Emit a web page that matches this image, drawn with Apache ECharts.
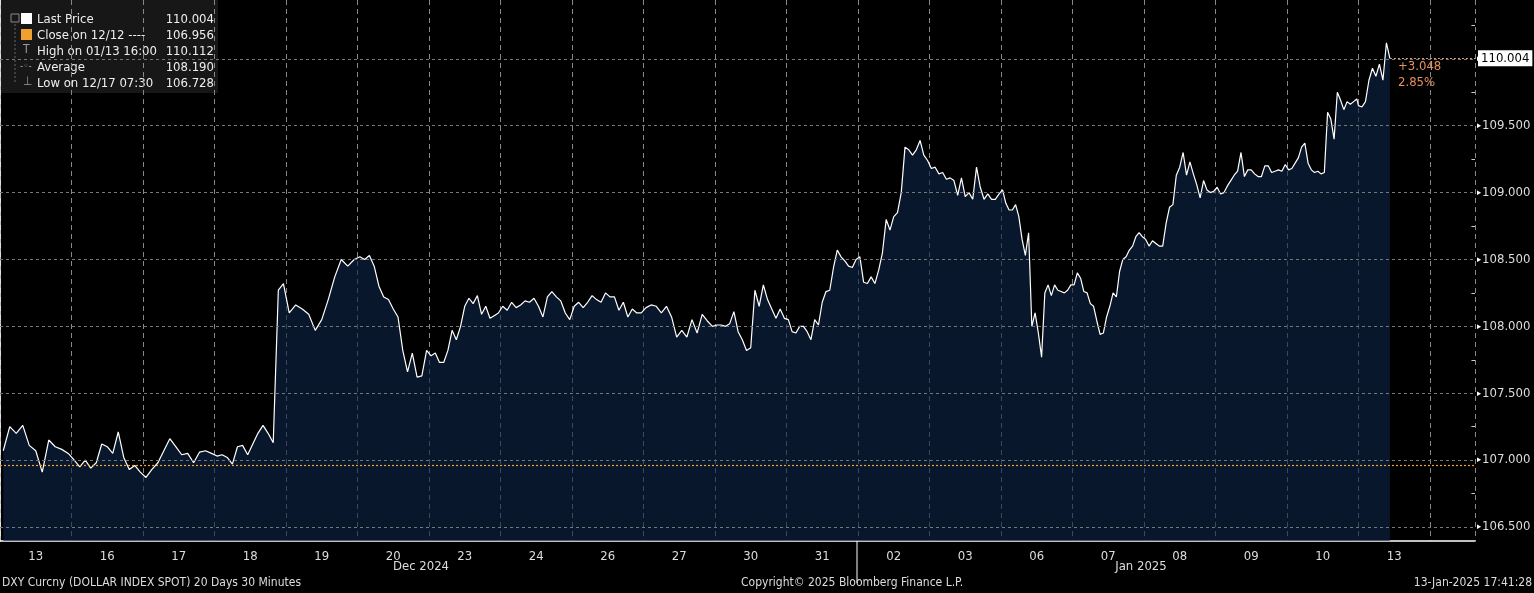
<!DOCTYPE html>
<html><head><meta charset="utf-8">
<script src="https://cdn.jsdelivr.net/npm/echarts@6/dist/echarts.min.js"></script>
<style>html,body{margin:0;padding:0;background:#000}#c{width:1534px;height:593px}</style>
</head><body><div id="c"></div>
<script>
const dayLabels = ['13','16','17','18','19','20','23','24','26','27','30','31','02','03','06','07','08','09','10','13'];
const yTicks = [106.5,107.0,107.5,108.0,108.5,109.0,109.5,110.0];
const minorTicks = [106.75,107.25,107.75,108.25,108.75,109.25,109.75,110.25];
const d0 = [107.07,107.25,107.2,107.26,107.11,107.07,106.91,107.15,107.1,107.08,107.05];
const d1 = [107.0,106.95,107.0,106.94,106.98,107.12,107.1,107.05,107.21,107.02,106.93,106.96,106.91];
const d2 = [106.87,106.93,106.98,107.07,107.16,107.1,107.04,107.05,106.98,107.06,107.07,107.05];
const d3 = [107.03,107.04,107.02,106.97,107.1,107.11,107.04,107.12,107.2,107.26,107.2,107.13,108.27,108.32];
const d4 = [108.1,108.16,108.13,108.09,107.97,108.05,108.2,108.37,108.5,108.45,108.5];
const d5 = [108.52,108.5,108.53,108.45,108.3,108.22,108.2,108.13,108.07,107.82,107.66,107.8,107.62,107.63,107.82];
const d6 = [107.78,107.8,107.73,107.73,107.82,107.97,107.9,108.0,108.15,108.21,108.17,108.23,108.09,108.15,108.06,108.08,108.1];
const d7 = [108.15,108.12,108.18,108.14,108.16,108.19,108.18,108.21,108.15,108.07,108.22,108.26,108.22,108.19,108.1,108.05];
const d8 = [108.15,108.18,108.14,108.18,108.23,108.2,108.18,108.25,108.22,108.22,108.12,108.18,108.07,108.13,108.1,108.1];
const d9 = [108.14,108.16,108.15,108.1,108.15,108.07,107.92,107.97,107.92,108.05,107.95,108.09,108.04,108.0];
const d10 = [108.01,108.01,108.0,108.02,108.11,107.96,107.9,107.82,107.84,108.27,108.15,108.31,108.2,108.13,108.06,108.13,108.06];
const d11 = [108.05,107.96,107.95,108.0,108.0,107.96,107.9,108.05,108.01,108.18,108.26,108.27,108.44,108.57,108.52,108.49,108.45,108.44,108.5];
const d12 = [108.52,108.33,108.32,108.37,108.32,108.42,108.55,108.8,108.72,108.82,108.85,109.0,109.34,109.32,109.28,109.32,109.39,109.28,109.24];
const d13 = [109.18,109.19,109.14,109.15,109.1,109.11,109.09,108.98,109.11,108.97,109.0,108.95,109.19,109.04,108.95,108.99,108.95,108.95,108.99];
const d14 = [109.02,108.92,108.87,108.87,108.91,108.82,108.65,108.53,108.7,108.0,108.1,107.95,107.77,108.25,108.31,108.23,108.31,108.27,108.26,108.25,108.27,108.31];
const d15 = [108.31,108.4,108.36,108.26,108.25,108.17,108.15,108.04,107.94,107.95,108.07,108.15,108.25,108.22,108.41,108.5,108.52,108.57,108.6,108.67,108.7,108.67];
const d16 = [108.65,108.6,108.64,108.62,108.6,108.6,108.77,108.89,108.91,109.13,109.19,109.3,109.13,109.23,109.14,109.06,108.96,109.09,109.02,109.0,109.01];
const d17 = [109.04,108.99,109.0,109.05,109.09,109.13,109.16,109.3,109.12,109.17,109.17,109.14,109.12,109.12,109.2,109.2,109.15,109.16,109.17,109.16,109.21];
const d18 = [109.17,109.18,109.22,109.26,109.34,109.37,109.22,109.17,109.15,109.16,109.14,109.15,109.6,109.55,109.4,109.75,109.69,109.62,109.68,109.66,109.68,109.7];
const d19 = [109.65,109.64,109.68,109.84,109.93,109.87,109.96,109.84,110.12,110.004];
const closePrice = 106.956, lastPrice = 110.004;

const days = [d0,d1,d2,d3,d4,d5,d6,d7,d8,d9,d10,d11,d12,d13,d14,d15,d16,d17,d18,d19];
const data = [];
days.forEach((arr,k)=>{
  const frac = k===19 ? 0.44 : 1;
  arr.forEach((v,i)=>{ data.push([k + (k===19 ? (i/(arr.length-1))*frac : (i+0.5)/arr.length), v]); });
});
const lastT = data[data.length-1][0];
const XMAX = 20.63;
const gridStyle = {color:'#777', type:[3,3], width:1};
const chart = echarts.init(document.getElementById('c'));
const font = "'Liberation Sans Narrow','DejaVu Sans Condensed','Liberation Sans',sans-serif";
chart.setOption({
  backgroundColor:'#000',
  animation:false,
  grid:{left:0, right:59, top:0, bottom:52},
  xAxis:[{
    type:'value', min:0, max:XMAX, interval:1,
    axisLine:{show:true, lineStyle:{color:'#fff', width:1.5}},
    axisTick:{show:false}, axisLabel:{show:false},
    splitLine:{show:true, lineStyle:{color:'#888', type:[5,4]}}
  },{
    type:'value', min:0, max:XMAX, position:'bottom',
    axisLine:{show:false}, axisTick:{show:false}, splitLine:{show:false},
    axisLabel:{customValues: dayLabels.map((_,i)=>i+0.5), color:'#ddd', fontSize:13, fontFamily:font, margin:9,
      formatter:(v)=>dayLabels[Math.floor(v)]}
  }],
  yAxis:{
    type:'value', position:'right', min:106.395, max:110.44,
    axisLine:{show:true, lineStyle:{color:'#fff', width:1.5}},
    axisTick:{show:false},
    splitLine:{show:false},
    axisLabel:{customValues:yTicks, color:'#ddd', fontSize:13, fontFamily:font, margin:2,
      formatter:(v)=>'{a|▸}'+v.toFixed(3), rich:{a:{color:'#fff', fontSize:9, padding:[0,1,0,0]}}}
  },
  series:[{
    type:'line', data:data, showSymbol:false, xAxisIndex:0,
    lineStyle:{color:'#fff', width:1.2},
    areaStyle:{color:'rgba(12,36,70,0.9)'},
    markLine:{symbol:'none', silent:true, label:{show:false},
      data:[
        ...yTicks.map(v=>({yAxis:v, lineStyle:gridStyle})),
        ...minorTicks.map(v=>[{coord:[XMAX-0.05,v], lineStyle:{color:'#ccc', type:'solid', width:1}},{coord:[XMAX,v]}]),
        {yAxis:closePrice, lineStyle:{color:'#f0a040', type:[2,2], width:1.2}},
        [{coord:[lastT,lastPrice], lineStyle:{color:'#d8a070', type:[2,2], width:1}},
         {coord:[XMAX,lastPrice], label:{show:true, position:'end', formatter:'110.004', color:'#000', backgroundColor:'#fff',
           fontSize:13, fontFamily:font, padding:[2,3,1,3], distance:3}}]
      ]}
  }],
  graphic:[
    {type:'rect', shape:{x:0,y:0,width:218,height:93}, style:{fill:'#171717'}},
    {type:'rect', shape:{x:11,y:14,width:8,height:8}, style:{fill:'none', stroke:'#888'}},
    {type:'line', shape:{x1:15,y1:24,x2:15,y2:83}, style:{stroke:'#666', lineDash:[2,2]}},
    {type:'rect', shape:{x:21,y:13,width:11,height:11}, style:{fill:'#fff'}},
    {type:'rect', shape:{x:21,y:29,width:11,height:11}, style:{fill:'#f0a030'}},
    {type:'text', style:{text:'T', x:23, y:44, fill:'#999', font:'12px '+font}},
    {type:'text', style:{text:'-◦-', x:20, y:61, fill:'#999', font:'10px '+font}},
    {type:'text', style:{text:'⊥', x:23, y:76, fill:'#999', font:'12px '+font}},
    ...[['Last Price','110.004'],['Close on 12/12 ----','106.956'],['High on 01/13 16:00','110.112'],['Average','108.190'],['Low on 12/17 07:30','106.728']].flatMap((r,i)=>[
      {type:'text', style:{text:r[0], x:37, y:13+i*16, fill:'#eee', font:'13px '+font}},
      {type:'text', style:{text:r[1], x:214, y:13+i*16, fill:'#eee', font:'13px '+font, textAlign:'right'}}
    ]),
    {type:'text', style:{text:'+3.048', x:1398, y:60, fill:'#e8905a', font:'13px '+font}},
    {type:'text', style:{text:'2.85%', x:1398, y:76, fill:'#e8905a', font:'13px '+font}},
    {type:'line', shape:{x1:857,y1:541,x2:857,y2:583}, style:{stroke:'#fff', lineWidth:1}},
    {type:'text', style:{text:'Dec 2024', x:421, y:560, fill:'#ddd', font:'13px '+font, textAlign:'center'}},
    {type:'text', style:{text:'Jan 2025', x:1141, y:560, fill:'#ddd', font:'13px '+font, textAlign:'center'}},
    {type:'text', style:{text:'DXY Curcny (DOLLAR INDEX SPOT) 20 Days 30 Minutes', x:2, y:577, fill:'#ddd', font:'12px '+font}},
    {type:'text', style:{text:'Copyright© 2025 Bloomberg Finance L.P.', x:741, y:577, fill:'#ddd', font:'12px '+font}},
    {type:'text', style:{text:'13-Jan-2025 17:41:28', x:1532, y:577, fill:'#ddd', font:'12px '+font, textAlign:'right'}}
  ]
});
</script></body></html>
